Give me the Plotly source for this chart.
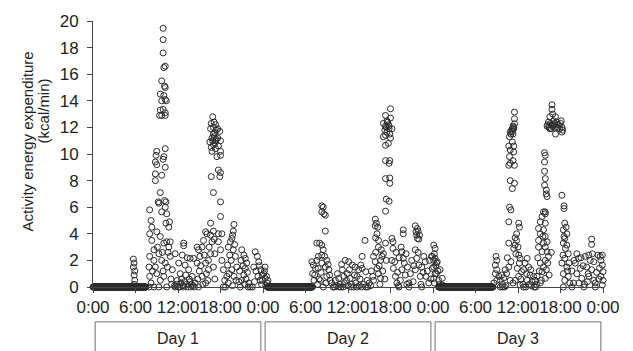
import numpy as np
import plotly.graph_objects as go

# ---------------- data ----------------
day_labels = ["Day 1", "Day 2", "Day 3"]
day_starts = [0, 24, 48]
tick_hours = [0, 6, 12, 18, 24, 30, 36, 42, 48, 54, 60, 66, 72]
tick_labels = ["0:00", "6:00", "12:00", "18:00", "0:00", "6:00", "12:00",
               "18:00", "0:00", "6:00", "12:00", "18:00", "0:00"]

# (hour of day, kcal/min)
day1_points = [
    (5.7, 2.1), (5.8, 1.8), (5.7, 1.5), (5.9, 1.2), (5.8, 0.9), (5.9, 0.5), (5.8, 0.2),
    (8.0, 5.8), (8.2, 5.0), (8.3, 4.5), (8.0, 4.0), (8.3, 3.5), (8.6, 2.8), (8.0, 2.3),
    (7.9, 1.5), (8.0, 0.8), (7.9, 0.0),
    (9.5, 7.1), (9.3, 6.3), (9.2, 6.4), (9.7, 5.65), (10.1, 6.5), (10.3, 6.4), (10.2, 6.0),
    (10.4, 5.5), (10.3, 4.8), (10.8, 4.9), (10.7, 4.5), (9.0, 4.15), (9.5, 3.8), (10.0, 3.3),
    (10.4, 3.4), (10.9, 3.4), (10.7, 3.0), (9.3, 2.5), (9.7, 2.0), (10.2, 1.8), (10.9, 2.3),
    (11.2, 1.3), (8.8, 1.5), (9.0, 1.0), (9.5, 0.5), (8.6, 0.0), (9.3, 0.0), (10.4, 0.0),
    (8.4, 1.2), (8.6, 2.0), (9.1, 3.0), (9.8, 2.6), (10.5, 1.5), (10.0, 0.8), (11.0, 0.6),
    (8.2, 0.3), (9.9, 1.2), (10.6, 2.6), (11.1, 0.2),
    (9.9, 19.45), (9.9, 18.6), (9.9, 17.6), (10.0, 16.5), (10.2, 16.6), (9.7, 15.5),
    (10.1, 15.1), (10.2, 15.0), (9.5, 14.5), (10.0, 14.4), (10.2, 14.1), (9.7, 14.0),
    (10.35, 14.0), (9.5, 13.3), (9.9, 13.35), (10.2, 13.1), (9.4, 12.9), (9.7, 12.9), (10.2, 12.9),
    (9.0, 10.2), (10.2, 10.4), (8.9, 9.9), (10.0, 9.8), (8.8, 9.4), (9.9, 9.6), (10.2, 9.0),
    (9.0, 9.2), (8.8, 8.5), (9.7, 8.4), (8.8, 8.0),
    (11.6, 2.5), (12.8, 3.3), (12.8, 3.1), (12.6, 2.4), (13.3, 2.2), (13.7, 2.15), (14.2, 2.15),
    (12.1, 1.8), (13.0, 1.65), (13.5, 1.3), (12.3, 1.0), (14.0, 0.8), (11.9, 0.5), (13.7, 0.4),
    (14.9, 0.0), (11.5, 0.1), (11.8, 0.2), (12.0, 0.0), (12.4, 0.3), (12.7, 0.1), (12.9, 0.4),
    (13.2, 0.2), (13.4, 0.0), (13.6, 0.6), (13.9, 0.2), (14.1, 0.1), (14.4, 0.3), (12.5, 0.6),
    (13.1, 0.9), (11.6, 0.0), (12.2, 0.0), (12.8, 0.0), (13.8, 0.0), (14.3, 0.0),
    (14.7, 3.0), (14.9, 2.8), (15.4, 3.0), (15.9, 4.15), (16.1, 4.0), (15.6, 3.5), (15.1, 2.3),
    (14.7, 1.8), (15.9, 1.8), (16.3, 2.0), (16.6, 3.9), (16.6, 4.8), (16.8, 3.4), (16.6, 2.5),
    (16.3, 1.3), (15.4, 0.8), (15.9, 0.3), (15.0, 1.2), (15.2, 1.6), (15.7, 2.4), (16.0, 1.0),
    (16.4, 3.0), (16.2, 0.5), (15.5, 0.2), (14.8, 0.6),
    (16.9, 12.8), (16.7, 12.3), (17.3, 12.2), (16.6, 11.9), (17.6, 11.9), (17.0, 11.5),
    (17.9, 11.7), (16.8, 11.2), (17.4, 11.1), (18.0, 11.0), (16.5, 10.9), (17.0, 10.7),
    (17.7, 10.6), (16.7, 10.5), (18.0, 10.2), (16.8, 10.2), (17.5, 9.8), (18.0, 9.9),
    (16.7, 8.3), (17.7, 8.8), (18.0, 8.6), (17.9, 8.3),
    (17.2, 11.6), (17.1, 11.3), (17.3, 11.0), (17.2, 10.8), (17.4, 11.8), (17.0, 12.0),
    (17.3, 10.4), (17.6, 11.2), (17.1, 12.4), (16.9, 11.0),
    (17.0, 7.1), (18.0, 6.4), (18.0, 5.3), (18.2, 4.0), (17.7, 3.4), (18.0, 2.8), (18.2, 2.0),
    (18.4, 1.3), (18.6, 0.5), (18.4, 0.0), (17.7, 4.0), (17.0, 4.2), (17.1, 3.6), (17.2, 2.5),
    (17.0, 1.5), (17.2, 0.6), (18.7, 0.0),
    (19.9, 4.7), (19.8, 4.2), (19.6, 3.65), (19.4, 3.4), (19.1, 3.0), (19.3, 2.4), (19.0, 1.65),
    (19.6, 1.3), (20.1, 2.3), (20.3, 1.5), (19.9, 0.8), (19.1, 0.3), (19.2, 1.0), (19.5, 2.0),
    (19.8, 2.8), (20.0, 3.2), (20.2, 0.5), (18.9, 0.8), (19.7, 0.1), (19.7, 3.9),
    (21.0, 2.8), (21.3, 2.4), (21.5, 2.15), (21.7, 1.8), (21.5, 1.4), (21.3, 0.9), (21.0, 0.5),
    (20.8, 0.0), (20.7, 1.2), (20.9, 2.0), (21.2, 1.6), (21.6, 0.6), (21.8, 1.1), (22.0, 0.3),
    (21.4, 0.2), (20.6, 0.4), (21.9, 0.0), (22.2, 0.0),
    (22.9, 2.65), (23.2, 2.3), (23.4, 1.9), (23.6, 0.5), (22.7, 1.5), (23.0, 1.2), (23.3, 0.8),
    (23.7, 1.3), (23.8, 0.2), (22.8, 0.4), (23.5, 1.6), (23.9, 0.9), (23.9, 0.5), (22.5, 0.0),
]

day2_points = [
    (0.3, 1.5), (0.1, 1.0), (0.3, 0.65), (0.6, 0.3), (0.2, 1.2), (0.5, 0.8), (0.4, 0.1), (0.7, 0.5),
    (6.9, 1.9), (7.1, 1.65), (7.4, 1.4), (7.0, 1.0), (7.2, 0.5), (7.6, 2.0),
    (7.6, 3.3), (8.0, 3.3), (8.3, 3.15), (8.5, 2.8), (8.3, 2.4), (9.0, 2.0), (8.8, 1.5),
    (9.3, 1.3), (9.0, 0.8), (9.5, 0.5), (8.1, 0.5), (8.5, 0.0),
    (8.3, 6.1), (8.5, 6.0), (8.3, 5.65), (8.8, 5.4), (8.6, 5.5), (8.8, 4.2),
    (7.8, 2.3), (8.3, 1.8), (7.8, 1.4), (7.3, 0.9), (7.9, 0.6), (8.2, 1.1), (8.7, 2.3),
    (8.9, 0.3), (9.2, 1.7), (7.7, 0.2), (9.4, 0.9),
    (9.7, 0.3), (10.2, 0.5), (10.7, 0.65), (11.2, 1.3), (11.6, 2.0), (12.1, 1.9), (12.6, 1.65),
    (13.0, 1.5), (13.5, 1.3), (11.4, 0.8), (11.9, 1.0), (12.3, 0.65), (13.3, 0.8), (13.8, 1.65),
    (14.0, 2.3), (14.4, 3.5), (14.0, 1.4), (14.5, 1.15), (14.7, 0.5),
    (9.9, 0.0), (10.4, 0.1), (10.9, 0.2), (11.0, 0.0), (11.5, 0.3), (12.0, 0.1), (12.5, 0.2),
    (12.8, 0.0), (13.1, 0.3), (13.6, 0.1), (14.2, 0.2), (14.8, 0.0), (11.8, 0.5), (12.9, 0.9),
    (13.7, 0.6), (12.2, 1.3), (10.5, 1.0), (11.1, 1.7),
    (10.1, 0.0), (10.7, 0.0), (11.3, 0.0), (12.4, 0.0), (13.3, 0.0), (13.9, 0.0), (14.5, 0.0),
    (15.85, 5.1), (16.0, 4.8), (16.2, 4.5), (16.1, 4.0), (16.3, 3.5), (16.3, 3.0), (15.6, 2.3),
    (15.85, 1.9), (16.6, 2.0), (16.8, 2.3), (17.0, 2.5), (17.3, 3.3), (16.1, 1.4), (16.3, 1.0),
    (16.6, 0.65), (15.6, 0.5), (15.85, 4.6), (15.9, 3.7),
    (15.0, 0.3), (15.3, 1.2), (15.5, 0.8), (16.4, 1.6), (16.9, 1.2), (17.2, 0.6), (17.4, 2.0),
    (16.7, 2.8), (15.9, 2.6), (15.2, 0.1), (16.5, 0.2),
    (18.0, 13.4), (17.3, 12.9), (18.0, 12.7), (17.0, 12.3), (17.7, 12.2), (18.2, 11.9),
    (17.3, 12.1), (17.5, 11.65), (17.0, 11.3), (18.0, 11.2), (17.3, 10.65), (17.7, 10.8),
    (17.4, 12.0), (17.6, 12.4), (17.8, 11.9), (17.2, 11.8), (17.5, 12.5), (17.8, 12.1),
    (17.9, 11.5), (17.3, 11.4),
    (17.3, 9.5), (17.9, 9.5), (17.8, 9.3), (17.3, 8.15), (17.9, 8.2), (17.9, 7.8),
    (17.4, 6.6), (17.8, 6.45), (17.3, 5.7),
    (18.2, 3.65), (18.35, 3.4), (18.35, 2.9), (18.2, 2.0), (18.4, 1.4), (18.7, 0.8), (18.9, 0.3),
    (19.8, 4.3), (19.8, 4.0), (19.6, 2.65), (19.8, 2.15), (19.95, 1.8), (19.6, 1.3), (20.1, 0.9),
    (19.4, 0.5), (18.6, 1.9), (19.0, 1.1), (19.2, 2.2), (19.5, 3.0), (20.2, 2.5), (20.4, 1.5),
    (19.1, 0.1), (20.3, 0.2), (18.8, 2.6), (19.2, 0.0), (20.6, 0.0),
    (21.5, 4.6), (21.6, 4.15), (21.7, 3.9), (21.8, 3.65), (22.1, 3.9), (21.5, 2.8), (21.7, 2.15),
    (22.0, 1.65), (21.5, 1.3), (22.2, 0.8), (22.7, 2.3), (22.9, 1.9), (22.4, 1.5), (22.0, 3.6),
    (21.9, 4.2), (21.8, 4.4), (20.8, 1.0), (21.0, 2.0), (21.2, 0.4), (21.3, 1.6), (21.9, 2.6),
    (22.3, 0.2), (22.6, 1.1), (20.6, 0.3), (22.4, 0.0),
    (23.2, 1.2), (23.5, 2.0), (23.7, 0.6), (23.9, 1.4), (23.4, 0.3), (23.0, 0.8), (23.8, 2.3),
    (23.9, 2.3),
]

day3_points = [
    (0.1, 3.15), (0.3, 2.9), (0.3, 2.15), (0.6, 1.9), (0.1, 1.5), (1.0, 1.3), (0.3, 1.0),
    (1.3, 0.65), (0.8, 0.5), (1.3, 0.15), (0.1, 2.0), (0.5, 1.8), (0.5, 1.0), (0.1, 0.65),
    (0.2, 2.5), (0.4, 1.6), (0.7, 1.2), (0.9, 0.2), (0.2, 0.3),
    (8.9, 2.3), (9.0, 2.0), (8.8, 1.65), (9.0, 1.3), (8.8, 1.0), (9.3, 0.8), (9.0, 0.5),
    (8.6, 0.3), (9.5, 0.5), (9.7, 0.9), (10.2, 1.3), (10.7, 1.5), (10.4, 1.0), (10.9, 0.5),
    (10.8, 6.0), (11.0, 5.8), (10.7, 4.9), (12.1, 4.8), (12.2, 4.5), (11.8, 4.0), (11.6, 3.7),
    (11.8, 3.5), (11.6, 3.15), (10.7, 3.3), (11.4, 2.9), (12.1, 2.4), (12.3, 2.15), (12.2, 1.8),
    (11.9, 1.4), (12.5, 1.15), (12.1, 0.8), (11.6, 0.5), (12.3, 0.15),
    (11.5, 13.15), (11.5, 12.65), (11.5, 12.27), (11.4, 12.0), (11.2, 11.9), (10.9, 11.65),
    (11.3, 11.5), (10.8, 11.3), (11.2, 10.9), (11.4, 10.6), (10.7, 10.6), (10.9, 10.3),
    (11.4, 10.15), (10.8, 9.8), (11.3, 9.5), (10.9, 9.3), (11.5, 9.15), (10.7, 9.15),
    (10.9, 8.0), (11.5, 7.8), (11.2, 7.4),
    (11.1, 11.8), (11.3, 12.1), (11.0, 11.5), (11.2, 11.7), (11.4, 11.9),
    (9.8, 0.2), (10.0, 0.7), (10.5, 2.2), (11.0, 1.9), (11.3, 0.3), (11.7, 2.5), (12.0, 3.0),
    (12.4, 0.6), (10.3, 0.1), (9.5, 0.0), (9.8, 0.0), (10.1, 0.0),
    (13.3, 2.15), (13.0, 1.8), (13.5, 1.5), (12.8, 1.3), (13.7, 0.9), (13.3, 0.5), (14.2, 0.8),
    (14.0, 0.4), (14.4, 0.5), (12.7, 0.2), (13.1, 0.0), (13.6, 0.2), (13.9, 0.1), (14.3, 0.0),
    (14.6, 0.2), (13.2, 1.0), (13.8, 1.3), (12.8, 0.0), (14.5, 0.0),
    (15.6, 5.65), (15.85, 5.5), (15.4, 5.3), (15.15, 4.9), (15.85, 4.8), (14.9, 4.4), (15.6, 4.3),
    (15.15, 4.0), (15.85, 3.8), (14.9, 3.5), (15.6, 3.3), (16.1, 3.4), (15.85, 3.0), (14.9, 3.0),
    (15.4, 2.65), (16.1, 2.65), (16.7, 2.6), (16.3, 2.3), (15.85, 2.0), (15.15, 1.8), (15.6, 1.5),
    (15.4, 1.15), (14.7, 0.8), (15.85, 0.65), (15.15, 0.3),
    (15.75, 10.1), (15.85, 9.9), (15.75, 9.4), (15.75, 8.7), (15.85, 8.15), (15.75, 7.65),
    (16.0, 7.3), (16.0, 7.0), (16.1, 6.8), (15.85, 5.65),
    (15.0, 1.2), (15.3, 0.5), (16.0, 1.3), (16.4, 0.9), (16.2, 1.8), (14.8, 2.2), (15.5, 3.8),
    (16.8, 13.7), (16.8, 13.35), (16.9, 13.0), (16.5, 12.8), (17.3, 12.8), (17.0, 12.5),
    (16.3, 12.4), (17.5, 12.4), (16.8, 12.2), (16.1, 12.1), (17.3, 12.0), (17.7, 12.2),
    (16.5, 11.9), (18.0, 12.3), (18.2, 12.0), (18.2, 11.65), (17.3, 11.5), (18.3, 11.8),
    (16.6, 12.3), (16.9, 12.1), (17.1, 12.2), (16.4, 12.0), (17.2, 12.3), (16.7, 11.9),
    (17.6, 12.0), (17.9, 11.9), (18.1, 12.5), (16.2, 12.2),
    (18.2, 6.9), (18.5, 6.1), (18.5, 5.9),
    (18.6, 4.8), (18.8, 4.5), (18.4, 4.3), (18.9, 4.0), (18.6, 3.65), (18.4, 3.3), (18.9, 3.15),
    (18.35, 2.4), (18.6, 2.15), (19.1, 2.5), (18.2, 1.8), (18.9, 1.5), (18.4, 1.0), (19.1, 0.8),
    (18.6, 0.5), (18.4, 0.0), (18.7, 2.9), (19.0, 1.2), (19.3, 0.3), (18.5, 3.8), (19.2, 1.8),
    (20.3, 2.5), (20.55, 2.15), (20.1, 1.8), (20.8, 1.4), (20.3, 1.0), (21.0, 0.65), (19.85, 0.3),
    (22.4, 3.6), (22.4, 3.2), (22.0, 2.4), (22.2, 2.0), (22.7, 1.9), (21.7, 1.5), (22.4, 1.3),
    (22.0, 0.8), (22.7, 0.5),
    (23.3, 2.4), (23.9, 2.4), (23.7, 2.0), (23.9, 1.65), (23.5, 1.4), (24.0, 1.15), (23.7, 0.8),
    (24.0, 0.5), (23.9, 0.15), (24.1, 0.8),
    (19.6, 1.2), (19.9, 2.0), (20.6, 0.3), (21.2, 1.6), (21.4, 0.2), (21.9, 1.0), (22.5, 2.5),
    (22.9, 0.3), (23.1, 1.1), (23.4, 0.6), (23.6, 2.3), (20.9, 2.2), (21.5, 2.3), (21.8, 0.4),
    (19.6, 0.0), (21.3, 0.0), (22.9, 0.0),
]

# night-time stretches of consecutive zero readings (hour of day: start, end)
day1_zero_runs = [(0.0, 7.5)]
day2_zero_runs = [(0.6, 7.0)]
day3_zero_runs = [(0.8, 8.5)]

# ---------------- assemble ----------------
all_points = [day1_points, day2_points, day3_points]
all_runs = [day1_zero_runs, day2_zero_runs, day3_zero_runs]

xs, ys = [], []
for start, pts, runs in zip(day_starts, all_points, all_runs):
    for a, b in runs:
        t = np.arange(a, b, 1 / 30)  # one reading every two minutes
        xs.extend((start + t).tolist())
        ys.extend([0.0] * len(t))
    for h, v in pts:
        xs.append(start + h)
        ys.append(v)

fig = go.Figure()
fig.add_trace(go.Scatter(
    x=xs, y=ys, mode="markers", cliponaxis=False,
    marker=dict(symbol="circle-open", size=6, color="#2b2b2b", line=dict(width=1)),
    hoverinfo="skip", showlegend=False,
))

font = "Liberation Sans, Arial, sans-serif"
txt = "#1e1e1e"

shapes = []
annotations = []
for start, lab in zip(day_starts, day_labels):
    shapes.append(dict(type="rect", xref="x", yref="paper",
                       x0=start + 0.3, x1=start + 23.7, y0=-0.26, y1=-0.131,
                       line=dict(color="#707070", width=1), fillcolor="rgba(0,0,0,0)"))
    annotations.append(dict(x=start + 12, y=-0.195, xref="x", yref="paper",
                            text=lab, showarrow=False,
                            font=dict(family=font, size=16, color=txt),
                            xanchor="center", yanchor="middle"))

annotations.append(dict(x=-0.129, y=0.548, xref="paper", yref="paper",
                        text="Activity energy expenditure", textangle=-90, showarrow=False,
                        font=dict(family=font, size=15, color=txt),
                        xanchor="center", yanchor="middle"))
annotations.append(dict(x=-0.098, y=0.66, xref="paper", yref="paper",
                        text="(kcal/min)", textangle=-90, showarrow=False,
                        font=dict(family=font, size=15, color=txt),
                        xanchor="center", yanchor="middle"))

fig.update_layout(
    width=633, height=351,
    margin=dict(l=93, r=30, t=21, b=64, autoexpand=False),
    paper_bgcolor="white", plot_bgcolor="white",
    font=dict(family=font, size=17, color=txt),
    shapes=shapes, annotations=annotations,
    xaxis=dict(range=[0, 72], tickmode="array", tickvals=tick_hours, ticktext=tick_labels,
               tickangle=0, ticks="outside", ticklen=5, tickcolor="#444",
               showline=True, linecolor="#444", linewidth=1,
               showgrid=False, zeroline=False,
               tickfont=dict(family=font, size=17, color=txt)),
    yaxis=dict(range=[0, 20], dtick=2, ticks="outside", ticklen=5, tickcolor="#444",
               showline=True, linecolor="#444", linewidth=1,
               showgrid=False, zeroline=False, ticklabelstandoff=5,
               tickfont=dict(family=font, size=17, color=txt)),
)

fig.write_html(
    "out.html",
    config={"displayModeBar": False},
    post_script="document.body.style.margin='0';document.body.style.overflow='hidden';",
)
